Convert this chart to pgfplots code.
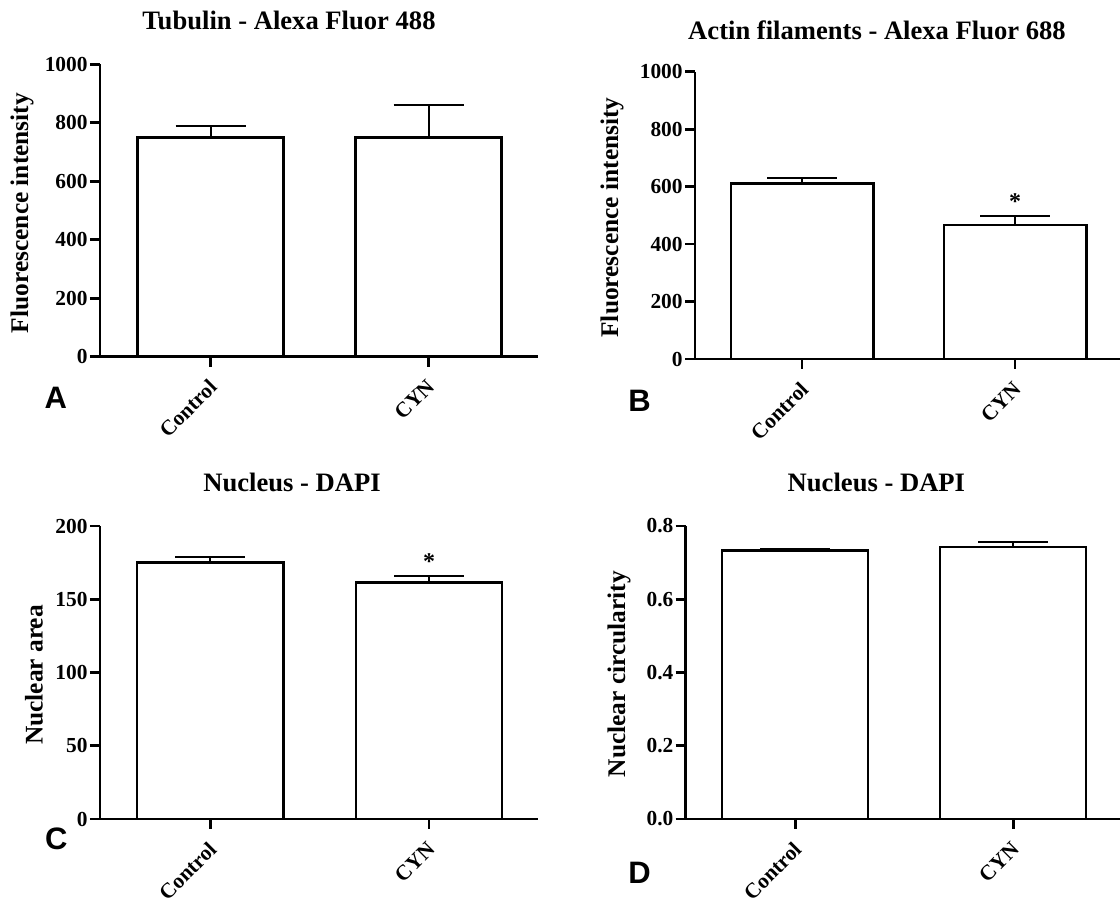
\documentclass[border=0pt]{standalone}
\usepackage{fontspec}
\setmainfont{Liberation Serif}
\newfontfamily\panelfont{Liberation Sans}
\usepackage{pgfplots}
\pgfplotsset{compat=1.18}

\pgfplotsset{
  panel/.style={
    scale only axis,
    anchor=south west,
    axis x line*=bottom,
    axis y line*=left,
    axis line style={line width=1.35pt, black},
    tick style={line width=1.35pt, black},
    major tick length=5pt,
    tick align=outside,
    ymin=0,
    xtick={0,1},
    xticklabels={Control,CYN},
    /pgf/number format/assume math mode=true,
    /pgf/number format/1000 sep={},
    tick label style={font=\fontsize{10.7}{12}\selectfont\bfseries},
    yticklabel style={inner xsep=1pt},
    xticklabel style={xshift=-1.5pt, rotate=45, anchor=north east, inner sep=1pt},
    xticklabel shift=4pt,
    ybar,
    bar width=0.67,
    clip=false,
  },
  meanbar/.style={
    fill=white, draw=black, line width=1.2pt,
    error bars/.cd,
      y dir=plus, y explicit,
      error bar style={line width=1.1pt, black},
      error mark options={rotate=90, line width=1.1pt, mark size=17.5pt, black},
  },
}
\tikzset{signif/.style={font=\fontsize{12}{14}\selectfont\bfseries, anchor=base, inner sep=0pt}}

\newcommand{\ttl}{\fontsize{13.3}{16}\selectfont\bfseries}
\newcommand{\lbl}{\fontsize{12.7}{15}\selectfont\bfseries}
\newcommand{\pnl}{\panelfont\bfseries\fontsize{15.5}{18}\selectfont}

\begin{document}
\begin{tikzpicture}
\useasboundingbox (0pt,0pt) rectangle (560pt,450pt);

% A: tubulin
\begin{axis}[panel, at={(50pt,271.65pt)}, width=219pt, height=146.2pt,
  xmin=-0.508, xmax=1.502, ymax=1000, ytick={0,200,400,600,800,1000}]
  \addplot[meanbar] coordinates {(0,749) +- (0,41) (1,749) +- (0,112)};
\end{axis}

% B: actin filaments
\begin{axis}[panel, at={(347.5pt,270.5pt)}, width=212.5pt, height=143.65pt,
  xmin=-0.503, xmax=1.493, ymax=1000, ytick={0,200,400,600,800,1000}]
  \addplot[meanbar] coordinates {(0,611) +- (0,18) (1,466) +- (0,32)};
  \node[signif] at (axis cs:1,520) {*};
\end{axis}

% C: nuclear area
\begin{axis}[panel, at={(50pt,40.5pt)}, width=218.75pt, height=146.5pt,
  xmin=-0.504, xmax=1.496, ymax=200, ytick={0,50,100,150,200}]
  \addplot[meanbar] coordinates {(0,175.2) +- (0,3.4) (1,161.3) +- (0,4.6)};
  \node[signif] at (axis cs:1,170) {*};
\end{axis}

% D: nuclear circularity
\begin{axis}[panel, at={(342.85pt,40.5pt)}, width=217.15pt, height=146.5pt,
  xmin=-0.502, xmax=1.49, ymax=0.8, ytick={0,0.2,0.4,0.6,0.8},
  yticklabel style={/pgf/number format/.cd, fixed, fixed zerofill, precision=1}]
  \addplot[meanbar] coordinates {(0,0.733) +- (0,0.005) (1,0.743) +- (0,0.013)};
\end{axis}

% titles
\node[anchor=base, font=\ttl] at (144.5pt,435pt) {Tubulin - Alexa Fluor 488};
\node[anchor=base, font=\ttl] at (438.5pt,430.35pt) {Actin filaments - Alexa Fluor 688};
\node[anchor=base, font=\ttl] at (146pt,204.15pt) {Nucleus - DAPI};
\node[anchor=base, font=\ttl] at (438.2pt,204.15pt) {Nucleus - DAPI};

% y axis labels
\node[rotate=90, font=\lbl] at (11pt,343.5pt) {Fluorescence intensity};
\node[rotate=90, font=\lbl] at (306pt,341.25pt) {Fluorescence intensity};
\node[rotate=90, font=\lbl] at (17pt,112.5pt) {Nuclear area};
\node[rotate=90, font=\lbl] at (309.5pt,113pt) {Nuclear circularity};

% panel letters
\node[font=\pnl] at (27.85pt,250.85pt) {A};
\node[font=\pnl] at (319.75pt,249.6pt) {B};
\node[font=\pnl] at (28.1pt,30.5pt) {C};
\node[font=\pnl] at (319.75pt,13.75pt) {D};
\end{tikzpicture}
\end{document}
